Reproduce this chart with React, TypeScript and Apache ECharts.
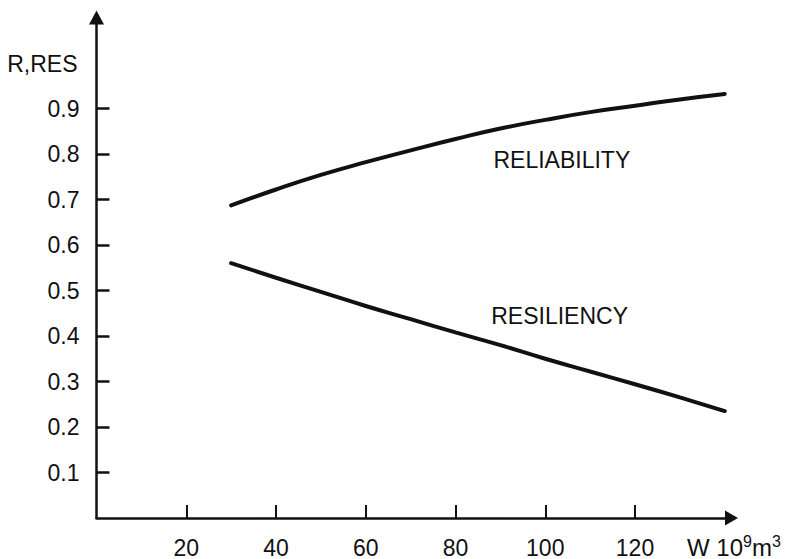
import React, { useEffect, useRef } from "react";
import * as echarts from "echarts";

// Storage W (10^9 m^3)
const storage = [30, 40, 50, 60, 70, 80, 90, 100, 110, 120, 130, 140];
const reliability = [0.687, 0.722, 0.754, 0.782, 0.808, 0.833, 0.856, 0.875, 0.892, 0.906, 0.92, 0.932];
const resiliency = [0.56, 0.528, 0.497, 0.466, 0.437, 0.408, 0.38, 0.35, 0.322, 0.294, 0.265, 0.235];
const yTicks = [0.1, 0.2, 0.3, 0.4, 0.5, 0.6, 0.7, 0.8, 0.9];
const xTicks = [20, 40, 60, 80, 100, 120];
const seriesNames = ["RELIABILITY", "RESILIENCY"];
const labelAnchors: [number, number][] = [
  [103.7, 0.787],
  [103.2, 0.444],
];

const INK = "#111";
const FONT = "Liberation Sans";

export default function App() {
  const ref = useRef<HTMLDivElement>(null);
  useEffect(() => {
    if (!ref.current) return;
    const chart = echarts.init(ref.current, undefined, { renderer: "svg" });
    const lines = [reliability, resiliency];
    chart.setOption({
      animation: false,
      backgroundColor: "#fff",
      grid: {
        left: 96.5,
        right: 55.5,
        top: 17.5,
        bottom: 41,
        containLabel: false,
        outerBoundsMode: "none",
      },
      xAxis: {
        type: "value",
        min: 0,
        max: 141.5,
        name: "W 10{sup|9}m{sup|3}",
        nameLocation: "end",
        nameGap: -44.5,
        nameTextStyle: {
          color: INK,
          fontFamily: FONT,
          fontSize: 24,
          lineHeight: 28,
          align: "left",
          verticalAlign: "top",
          padding: [15, 0, 0, 0],
          rich: {
            sup: { fontSize: 16, lineHeight: 16, verticalAlign: "top", color: INK, fontFamily: FONT },
          },
        },
        axisLine: {
          show: true,
          onZero: false,
          symbol: ["none", "triangle"],
          symbolSize: [15, 13],
          lineStyle: { color: INK, width: 2.5 },
        },
        axisTick: {
          show: true,
          inside: true,
          length: 13,
          customValues: xTicks,
          lineStyle: { color: INK, width: 2 },
        },
        axisLabel: {
          customValues: xTicks,
          formatter: (v: number) => String(v),
          margin: 18,
          color: INK,
          fontFamily: FONT,
          fontSize: 23,
        },
        splitLine: { show: false },
      },
      yAxis: {
        type: "value",
        min: 0,
        max: 1.1,
        name: "R,RES",
        nameLocation: "end",
        nameGap: -46.5,
        nameTextStyle: {
          color: INK,
          fontFamily: FONT,
          fontSize: 23,
          align: "right",
          verticalAlign: "middle",
          padding: [0, 19, 0, 0],
        },
        axisLine: {
          show: true,
          onZero: false,
          symbol: ["none", "triangle"],
          symbolSize: [15, 14],
          lineStyle: { color: INK, width: 2.5 },
        },
        axisTick: {
          show: true,
          inside: true,
          length: 13,
          customValues: yTicks,
          lineStyle: { color: INK, width: 2.5 },
        },
        axisLabel: {
          customValues: yTicks,
          formatter: (v: number) => v.toFixed(1),
          margin: 17,
          color: INK,
          fontFamily: FONT,
          fontSize: 23,
        },
        splitLine: { show: false },
      },
      series: lines.map((vals, i) => ({
        name: seriesNames[i],
        type: "line",
        smooth: true,
        showSymbol: false,
        data: storage.map((x, j) => [x, vals[j]]),
        lineStyle: { color: INK, width: 4, cap: "round" },
        itemStyle: { color: INK },
        markPoint: {
          symbol: "circle",
          symbolSize: 0,
          data: [{ name: seriesNames[i], coord: labelAnchors[i] }],
          label: {
            show: true,
            position: "inside",
            formatter: () => seriesNames[i],
            color: INK,
            fontFamily: FONT,
            fontSize: 23,
          },
        },
      })),
    });
    return () => chart.dispose();
  }, []);
  return (
    <div
      ref={ref}
      style={{ position: "fixed", left: 0, top: 0, width: 787, height: 559, background: "#fff" }}
    />
  );
}
